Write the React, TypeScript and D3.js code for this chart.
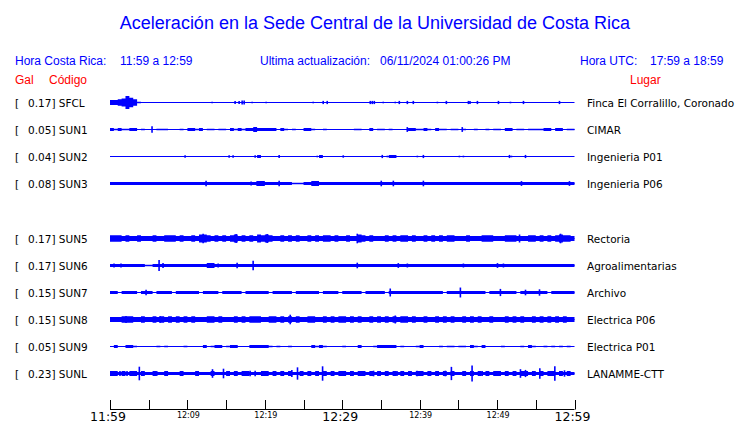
import React from "react";
import * as d3 from "d3";

// ---------- data ----------
const codes = ["SFCL", "SUN1", "SUN2", "SUN3", "SUN5", "SUN6", "SUN7", "SUN8", "SUN9", "SUNL"];
const peakGal = ["0.17", "0.05", "0.04", "0.08", "0.17", "0.17", "0.15", "0.15", "0.05", "0.23"];
const places = [
  "Finca El Corralillo, Coronado",
  "CIMAR",
  "Ingenieria P01",
  "Ingenieria P06",
  "Rectoria",
  "Agroalimentarias",
  "Archivo",
  "Electrica P06",
  "Electrica P01",
  "LANAMME-CTT",
];
const rowSlots = [0, 1, 2, 3, 5, 6, 7, 8, 9, 10];

// envelope amplitude per half-minute (12 groups of 10 = 5 minutes each)
const envSFCL = "3345864100 0000000000 0000000000 0000000000 0000000000 0000000000 0000000000 0000000000 0000000000 0000000000 0000000000 0000000000";
const envSUN1 = "2121122010 0011100010 2212011011 0212122322 2220210100 2210010000 0001100201 1010000221 1210211011 0100100101 1022011011 1122022011";
const envSUN2 = "0000000000 0000000000 0000000000 0000000020 0000000000 0000200000 0000000000 0022000000 0000000000 0000000000 0000000000 0000000000";
const envSUN3 = "2222222222 2222222222 2222222222 2222222233 2222222111 2233222222 2222222222 2222222222 2222222222 2222222222 2222222222 2222222222";
const envSUN5 = "4443433433 3433444343 3435543434 3453434354 5433434343 3434344343 3433543433 3434344343 3434343443 3343334443 3344433344 3434345443";
const envSUN6 = "2222222221 1222222222 2222233222 2222222222 2222222222 2222222222 2222222222 2222222222 2222222222 2222222222 2222222222 2222222222";
const envSUN7 = "2202222022 2022220222 2220222202 2222022222 2022222022 2222022220 2222202222 2022222222 2222220222 2222222022 2222202222 2220222222";
const envSUN8 = "3334443343 3434343434 3433344343 3343434443 3443434343 3443343434 4343433434 3434344343 3433434343 3434343343 3343434334 3434343433";
const envSUN9 = "0200221000 0010100001 0000201220 1220002222 2101001000 0021210000 1000200012 2222010001 2000010110 1102102000 0100001021 0010101010";
const envSUNL = "3323233232 2322322232 2232223222 3232332223 3232323223 2323232323 3232332323 2323232323 3232323232 2323232323 3232323323 2323323232";
const envelopes = [envSFCL, envSUN1, envSUN2, envSUN3, envSUN5, envSUN6, envSUN7, envSUN8, envSUN9, envSUNL];

// spikes: [minute after 11:59, amplitude]
const spkSFCL = [[13.19, 1], [16.16, 2], [16.68, 2], [17.07, 2.5], [17.33, 2.5], [18.36, 1], [20.17, 1], [26.25, 1], [27.54, 2], [28.06, 2], [33.62, 2], [33.88, 2], [34.14, 2], [35.3, 1], [36.85, 1], [37.37, 2], [38.41, 2], [39.18, 2], [42.29, 1], [43.45, 2], [46.3, 2], [46.5, 2], [47.46, 2], [50.18, 2], [51.73, 1], [53.41, 2], [58.06, 2]];
const spkSUN1 = [[5.43, 4], [38.4, 3], [45.5, 3]];
const spkSUN2 = [[9.7, 1.5], [15.39, 1.5], [15.9, 1.5], [18.75, 1.5], [21.85, 2], [26.77, 1], [30.13, 1.5], [35.17, 2], [35.82, 1], [39.7, 1], [40.48, 2], [45.13, 1], [45.65, 1], [51.6, 2], [51.86, 1], [53.67, 2]];
const spkSUN3 = [[12.41, 3.5], [18.23, 2.5], [19.01, 3], [21.85, 3.5], [35.04, 3.5], [36.6, 3.5], [40.48, 3.5], [53.15, 3], [59.35, 3]];
const spkSUN5 = [[12.03, 6], [16.29, 5.5], [20.3, 5.5], [31.94, 6], [52.9, 5], [58.2, 6]];
const spkSUN6 = [[0.52, 2.5], [1.42, 2.5], [6.34, 7], [6.85, 3], [13.97, 2.5], [16.42, 3.5], [18.49, 6], [31.94, 3.5], [37.24, 3], [38.41, 2.5], [45.65, 2.5], [50.05, 3], [50.82, 2.5]];
const spkSUN7 = [[4.66, 3.5], [36.2, 5], [45.26, 6.2], [50.43, 4.5], [53.67, 3.5], [55.48, 4]];
const spkSUN8 = [[2.07, 4.5], [6.47, 4.5], [23.28, 6], [36.85, 5]];
const spkSUN9 = [];
const spkSUNL = [[0.26, 3], [1.29, 3], [1.68, 3], [2.2, 3], [3.79, 8.5], [6.04, 3], [13.24, 5.4], [14.66, 6], [18.1, 3.5], [18.75, 3.5], [23.49, 4.5], [24.22, 7.7], [27.46, 9], [34.05, 3.5], [37.07, 3], [39.66, 3.5], [41.38, 3], [43.32, 3.5], [44.1, 8.3], [46.77, 10], [48.07, 3], [53.02, 5.4], [53.67, 4.5], [55.52, 6.7], [57.46, 9], [58.71, 4]];
const spikes = [spkSFCL, spkSUN1, spkSUN2, spkSUN3, spkSUN5, spkSUN6, spkSUN7, spkSUN8, spkSUN9, spkSUNL];

const tickMinutes = d3.range(0, 61, 5);
const tickLabels = ["11:59", "", "12:09", "", "12:19", "", "12:29", "", "12:39", "", "12:49", "", "12:59"];
const majorTicks = ["11:59", "12:29", "12:59"];

const title = "Aceleración en la Sede Central de la Universidad de Costa Rica";
const localRange = "11:59 a 12:59";
const utcRange = "17:59 a 18:59";
const updated = "06/11/2024 01:00:26 PM";

// ---------- chart ----------
const W = 740;
const H = 423;
const BLUE = "#0000ff";
const RED = "#ff0000";
const SANS = "'Liberation Sans', Arial, sans-serif";
const DJ = "'DejaVu Sans', sans-serif";

export default function App() {
  const x = d3.scaleLinear().domain([0, 60]).range([110, 574.5]);
  const row = d3.scaleLinear().domain([0, 10]).range([102, 373]);
  const amp = d3.scaleLinear().domain([0, 1]).range([0, 0.8]);

  return (
    <svg width={W} height={H} style={{ position: "absolute", left: 0, top: 0, background: "#fff" }}>
      <rect x={0} y={0} width={W} height={H} fill="#fff" />
      <text x={375} y={29} textAnchor="middle" fontFamily={SANS} fontSize={18} fill={BLUE}>{title}</text>

      <g fontFamily={SANS} fontSize={12} fill={BLUE}>
        <text x={15} y={65}>Hora Costa Rica:</text>
        <text x={120} y={65}>{localRange}</text>
        <text x={260} y={65}>Ultima actualización:</text>
        <text x={380} y={65}>{updated}</text>
        <text x={580} y={65}>Hora UTC:</text>
        <text x={650} y={65}>{utcRange}</text>
      </g>
      <g fontFamily={SANS} fontSize={12} fill={RED}>
        <text x={15} y={84}>Gal</text>
        <text x={49} y={84}>Código</text>
        <text x={630} y={84}>Lugar</text>
      </g>

      {codes.map((code, i) => {
        const yc = Math.round(row(rowSlots[i])) + 0.5;
        const env = envelopes[i].replace(/\s/g, "").split("").map(Number);
        const pts = env.map((v, k) => ({ t: k * 0.5, v }));
        pts.push({ t: 60, v: env[env.length - 1] });
        const area = d3
          .area<{ t: number; v: number }>()
          .x((d) => x(d.t))
          .y0((d) => yc - amp(d.v))
          .y1((d) => yc + amp(d.v))
          .curve(d3.curveStepAfter);
        return (
          <g key={code}>
            <text x={15} y={yc + 4} fontFamily={DJ} fontSize={10.5} fill="#000">[</text>
            <text x={28} y={yc + 4} fontFamily={DJ} fontSize={10.5} fill="#000">{peakGal[i] + "] " + code}</text>
            <line x1={x(0)} x2={x(60)} y1={yc} y2={yc} stroke={BLUE} strokeWidth={1} />
            <path d={area(pts) || ""} fill={BLUE} />
            {spikes[i].map((s, k) => (
              <line key={k} x1={x(s[0])} x2={x(s[0])} y1={yc - amp(s[1])} y2={yc + amp(s[1])} stroke={BLUE} strokeWidth={1.6} />
            ))}
            <text x={587} y={yc + 4} fontFamily={DJ} fontSize={10.5} fill="#000">{places[i]}</text>
          </g>
        );
      })}

      <g>
        <line x1={x(0)} x2={x(60)} y1={409.5} y2={409.5} stroke="#000" strokeWidth={1} />
        {tickMinutes.map((m) => (
          <line key={m} x1={Math.round(x(m)) + 0.5} x2={Math.round(x(m)) + 0.5} y1={400} y2={409.5} stroke="#000" strokeWidth={1} />
        ))}
        {tickMinutes.map((m, k) =>
          tickLabels[k] ? (
            majorTicks.includes(tickLabels[k]) ? (
              <text key={"l" + m} x={x(m) - 2} y={421} textAnchor="middle" fontFamily={DJ} fontSize={12.5} fill="#000">{tickLabels[k]}</text>
            ) : (
              <text key={"l" + m} x={x(m) + 1} y={418} textAnchor="middle" fontFamily={DJ} fontSize={8} fill="#000">{tickLabels[k]}</text>
            )
          ) : null
        )}
      </g>
    </svg>
  );
}
